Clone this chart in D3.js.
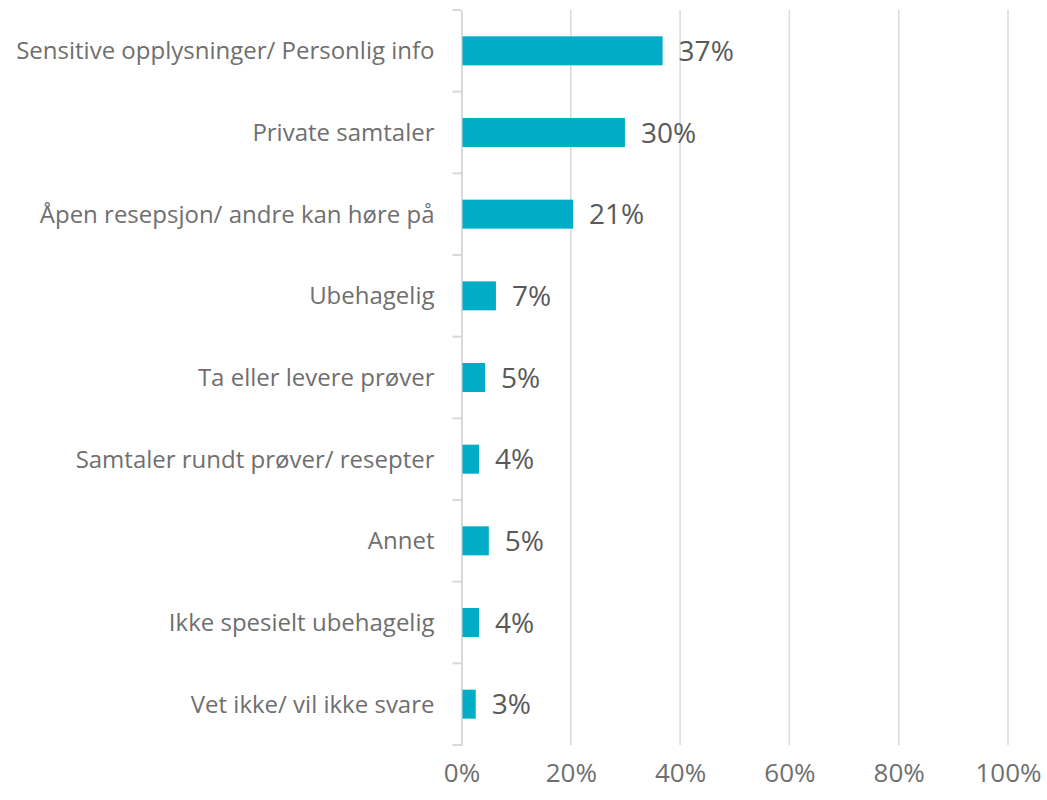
<!DOCTYPE html>
<html>
<head>
<meta charset="utf-8">
<script src="https://cdn.jsdelivr.net/npm/d3@7"></script>
<style>
  body { margin: 0; background: #fff; }
  svg, svg text { font-family: "Open Sans", sans-serif; }
</style>
</head>
<body>
<svg id="chart" width="1047" height="800"></svg>
<script>
const categories = [
  "Sensitive opplysninger/ Personlig info",
  "Private samtaler",
  "Åpen resepsjon/ andre kan høre på",
  "Ubehagelig",
  "Ta eller levere prøver",
  "Samtaler rundt prøver/ resepter",
  "Annet",
  "Ikke spesielt ubehagelig",
  "Vet ikke/ vil ikke svare"
]
// bar lengths (percent)
const values = [36.8, 29.9, 20.4, 6.3, 4.3, 3.2, 5.0, 3.2, 2.6]
const valueLabels = ["37%", "30%", "21%", "7%", "5%", "4%", "5%", "4%", "3%"]
const xTicks = [0, 20, 40, 60, 80, 100]

const svg = d3.select("#chart")
let margin = { top: 10, left: 461.5, right: 39, bottom: 55 }
let width = 1047, height = 800
let bodyHeight = height - margin.top - margin.bottom

let xScale = d3.scaleLinear()
  .domain([0, 100])
  .range([margin.left, width - margin.right])

let yScale = d3.scaleBand()
  .domain(categories)
  .range([margin.top, margin.top + bodyHeight])
  .paddingInner(0.645)
  .paddingOuter(0.3225)

let band = d3.scaleBand().domain(categories).range([margin.top, margin.top + bodyHeight])

// gridlines
svg.append("g")
  .selectAll("line")
  .data(xTicks.filter(d => d > 0))
  .enter().append("line")
  .attr("x1", d => xScale(d)).attr("x2", d => xScale(d))
  .attr("y1", margin.top).attr("y2", margin.top + bodyHeight)
  .attr("stroke", "#d9d9d9")
  .attr("stroke-width", 1.5)

// left axis with ticks between categories
let axisY = d3.axisLeft(band).tickSize(0).tickFormat(d => d)
let gy = svg.append("g")
  .attr("transform", `translate(${margin.left},0)`)
  .call(axisY)
gy.attr("font-family", null).attr("font-size", null)
gy.select(".domain").attr("stroke", "#d9d9d9").attr("stroke-width", 2)
gy.selectAll("text")
  .attr("x", -27)
  .attr("dy", "0.35em")
  .attr("fill", "#6f6f6f")
  .style("font-size", "24px")
gy.selectAll(".tick line").remove()

let sep = categories.map(c => band(c)).concat([margin.top + bodyHeight])
gy.selectAll(".sep")
  .data(sep)
  .enter().append("line")
  .attr("class", "sep")
  .attr("x1", -9).attr("x2", 0)
  .attr("y1", d => d).attr("y2", d => d)
  .attr("stroke", "#d9d9d9")
  .attr("stroke-width", 2)

// bars
svg.append("g")
  .selectAll("rect")
  .data(values)
  .enter().append("rect")
  .attr("x", xScale(0) + 1)
  .attr("y", (d, i) => yScale(categories[i]))
  .attr("width", d => xScale(d) - xScale(0) - 1)
  .attr("height", yScale.bandwidth())
  .attr("fill", "#00acc6")

// value labels
svg.append("g")
  .selectAll("text")
  .data(values)
  .enter().append("text")
  .attr("x", d => xScale(d) + 16)
  .attr("y", (d, i) => yScale(categories[i]) + yScale.bandwidth() / 2)
  .attr("dy", "0.36em")
  .attr("fill", "#595959")
  .style("font-size", "28px")
  .text((d, i) => valueLabels[i])

// x axis labels
let axisX = d3.axisBottom(xScale)
  .tickValues(xTicks)
  .tickSize(0)
  .tickFormat(d => d + "%")
let gx = svg.append("g")
  .attr("transform", `translate(0,${margin.top + bodyHeight})`)
  .call(axisX)
gx.attr("font-family", null).attr("font-size", null)
gx.select(".domain").remove()
gx.selectAll("text")
  .attr("y", 37)
  .attr("dy", 0)
  .attr("fill", "#6f6f6f")
  .style("font-size", "26px")
</script>
</body>
</html>
